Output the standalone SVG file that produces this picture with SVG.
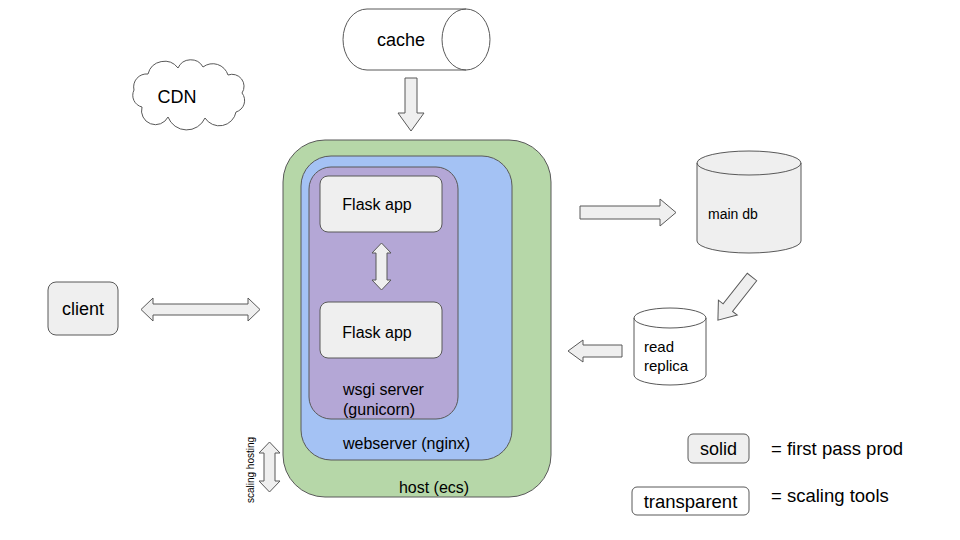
<svg xmlns="http://www.w3.org/2000/svg" width="960" height="540" viewBox="0 0 960 540">
<style>
  text { font-family: "Liberation Sans", Arial, sans-serif; fill: #000; }
  .shape { stroke: #595959; stroke-width: 1; }
  .grey { fill: #efefef; }
  .white { fill: #ffffff; }
  .arrow { fill: #efefef; stroke: #595959; stroke-width: 1; stroke-linejoin: miter; }
</style>
<rect width="960" height="540" fill="#ffffff"/>

<g id="cache">
  <path class="shape white" d="M367 9 H466 A24 30.5 0 0 1 466 70 H367 A24 30.5 0 0 1 367 9 Z"/>
  <path class="shape" fill="none" d="M466 9 A24 30.5 0 0 0 466 70"/>
  <text x="401" y="46" font-size="18" text-anchor="middle">cache</text>
</g>

<g id="cdn">
  <path class="shape white" d="M142 107 A12 12 0 0 1 134 90 A13 13 0 0 1 148 74 A17 17 0 0 1 178 68 A14 14 0 0 1 203 67 A16 16 0 0 1 228 75 A12 12 0 0 1 242 93 A12 12 0 0 1 236 112 A17 17 0 0 1 205 118 A20 20 0 0 1 168 117 A14 14 0 0 1 142 107 Z"/>
  <text x="177" y="103" font-size="18" text-anchor="middle">CDN</text>
</g>

<g id="host">
  <rect class="shape" x="283" y="140" width="268" height="357" rx="42" fill="#b6d7a8"/>
  <text x="434" y="493" font-size="16" text-anchor="middle">host (ecs)</text>
</g>

<g id="webserver">
  <rect class="shape" x="301" y="156" width="211" height="304" rx="30" fill="#a4c2f4"/>
  <text x="343" y="449" font-size="16">webserver (nginx)</text>
</g>

<g id="wsgi">
  <rect class="shape" x="309" y="167" width="149" height="252" rx="22" fill="#b4a7d6"/>
  <text x="343" y="395" font-size="16">wsgi server</text>
  <text x="343" y="415" font-size="16">(gunicorn)</text>
</g>

<g id="flask1">
  <rect class="shape grey" x="320" y="176" width="122" height="56" rx="8"/>
  <text x="377" y="210" font-size="16" text-anchor="middle">Flask app</text>
</g>

<g id="flask2">
  <rect class="shape grey" x="320" y="302" width="122" height="56" rx="8"/>
  <text x="377" y="338" font-size="16" text-anchor="middle">Flask app</text>
</g>

<g id="client">
  <rect class="shape grey" x="48" y="282" width="70" height="53" rx="8"/>
  <text x="83" y="315" font-size="18" text-anchor="middle">client</text>
</g>

<g id="main-db">
  <path class="shape grey" d="M697 163 A52 12 0 0 1 801 163 V241 A52 12 0 0 1 697 241 Z"/>
  <path class="shape" fill="none" d="M697 163 A52 12 0 0 0 801 163"/>
  <text x="708" y="219" font-size="14">main db</text>
</g>

<g id="read-replica">
  <path class="shape white" d="M634 318 A36 10 0 0 1 706 318 V375 A36 10 0 0 1 634 375 Z"/>
  <path class="shape" fill="none" d="M634 318 A36 10 0 0 0 706 318"/>
  <text x="644" y="352" font-size="15">read</text>
  <text x="644" y="371" font-size="15">replica</text>
</g>

<g id="legend-solid">
  <rect class="shape grey" x="688" y="434" width="61" height="29" rx="5"/>
  <text x="718.5" y="455" font-size="18" text-anchor="middle">solid</text>
  <text x="771" y="455" font-size="18.5">= first pass prod</text>
</g>

<g id="legend-transparent">
  <rect class="shape white" x="632" y="487" width="117" height="28" rx="5"/>
  <text x="690.5" y="508" font-size="18.5" text-anchor="middle">transparent</text>
  <text x="771" y="502" font-size="18.5">= scaling tools</text>
</g>

<g id="connectors">
  <path class="arrow" d="M405 78 H417 V113 H424 L411 131 L398 113 H405 Z"/>
  <path class="arrow" d="M141 309.5 L153 298 V304 H248 V298 L260 309.5 L248 321 V315 H153 V321 Z"/>
  <path class="arrow" d="M381.5 243 L391 253 H387 V280 H391 L381.5 290 L372 280 H376 V253 H372 Z"/>
  <path class="arrow" d="M580 206 H660 V199 L676 212.5 L660 226 V219 H580 Z"/>
  <path class="arrow" transform="translate(752 277) rotate(128.3)" d="M0 -6 H39 V-12 L55 0 L39 12 V6 H0 Z"/>
  <path class="arrow" d="M622 345 H583 V340 L568 351 L583 362 V357 H622 Z"/>
  <path class="arrow" d="M269.5 442 L280 453 H275 V481 H280 L269.5 492 L259 481 H264 V453 H259 Z"/>
  <text transform="translate(254 470) rotate(-90)" font-size="10" text-anchor="middle">scaling hosting</text>
</g>
</svg>
